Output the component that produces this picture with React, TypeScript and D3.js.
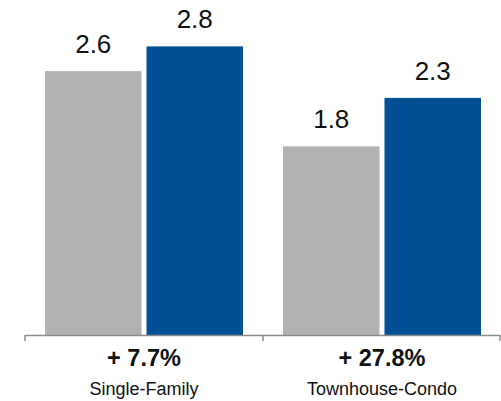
import { useEffect, useRef } from "react";
import * as d3 from "d3";

const categories = ["Single-Family", "Townhouse-Condo"];
const seriesNames = ["Prior", "Current"];
const priorValues = [2.56, 1.83];
const currentValues = [2.8, 2.3];
const changeLabels = ["+ 7.7%", "+ 27.8%"];
const seriesColors = ["#b2b2b2", "#034f96"];

export default function App() {
  const svgRef = useRef<SVGSVGElement>(null);

  useEffect(() => {
    if (!svgRef.current) return;
    document.body.style.margin = "0";
    const width = 501;
    const height = 401;
    const baseY = 335;

    const svg = d3.select(svgRef.current);
    svg.selectAll("*").remove();
    svg.attr("width", width).attr("height", height);

    const rows = categories.map((c, i) => ({
      category: c,
      values: [priorValues[i], currentValues[i]],
      change: changeLabels[i],
    }));

    // scales
    const x0 = d3.scaleBand<string>().domain(categories).range([25, 501]);
    const x1 = d3.scaleBand<string>()
      .domain(seriesNames)
      .range([0, x0.bandwidth()])
      .paddingInner(0.049)
      .paddingOuter(0.197);
    const yScale = d3.scaleLinear().domain([0, 3.25]).range([baseY, 0]);
    const color = d3.scaleOrdinal<string, string>().domain(seriesNames).range(seriesColors);
    const fmt = d3.format(".1f");

    const groups = svg.selectAll("g.group")
      .data(rows)
      .enter()
      .append("g")
      .attr("transform", d => `translate(${x0(d.category)},0)`);

    const bars = groups.selectAll("g.bar")
      .data(d => d.values.map((v, i) => ({ key: seriesNames[i], value: v })))
      .enter()
      .append("g");

    bars.append("rect")
      .attr("x", d => x1(d.key)!)
      .attr("y", d => yScale(d.value))
      .attr("width", x1.bandwidth())
      .attr("height", d => baseY - yScale(d.value))
      .attr("fill", d => color(d.key));

    bars.append("text")
      .attr("x", d => x1(d.key)! + x1.bandwidth() / 2)
      .attr("y", d => yScale(d.value) - 18)
      .attr("text-anchor", "middle")
      .attr("font-family", "'Liberation Sans', Arial, sans-serif")
      .attr("font-size", 26)
      .attr("fill", "#111")
      .text(d => fmt(d.value));

    // axis line with ticks at band edges
    const edges = [...categories.map(c => x0(c)!), x0.range()[1] - 1];
    svg.append("line")
      .attr("x1", edges[0])
      .attr("x2", edges[edges.length - 1])
      .attr("y1", baseY + 0.5)
      .attr("y2", baseY + 0.5)
      .attr("stroke", "#8a8a8a")
      .attr("stroke-width", 1.5);
    svg.selectAll("line.tick")
      .data(edges)
      .enter()
      .append("line")
      .attr("x1", d => d)
      .attr("x2", d => d)
      .attr("y1", baseY)
      .attr("y2", baseY + 6)
      .attr("stroke", "#8a8a8a")
      .attr("stroke-width", 1.5);

    groups.append("text")
      .attr("x", x0.bandwidth() / 2)
      .attr("y", 366)
      .attr("text-anchor", "middle")
      .attr("font-family", "'Liberation Sans', Arial, sans-serif")
      .attr("font-size", 23.5)
      .attr("font-weight", "bold")
      .attr("fill", "#111")
      .text(d => d.change);

    groups.append("text")
      .attr("x", x0.bandwidth() / 2)
      .attr("y", 395)
      .attr("text-anchor", "middle")
      .attr("font-family", "'Liberation Sans', Arial, sans-serif")
      .attr("font-size", 18)
      .attr("fill", "#111")
      .text(d => d.category);
  }, []);

  return (
    <div>
      <svg ref={svgRef} style={{ display: "block" }}></svg>
    </div>
  );
}
